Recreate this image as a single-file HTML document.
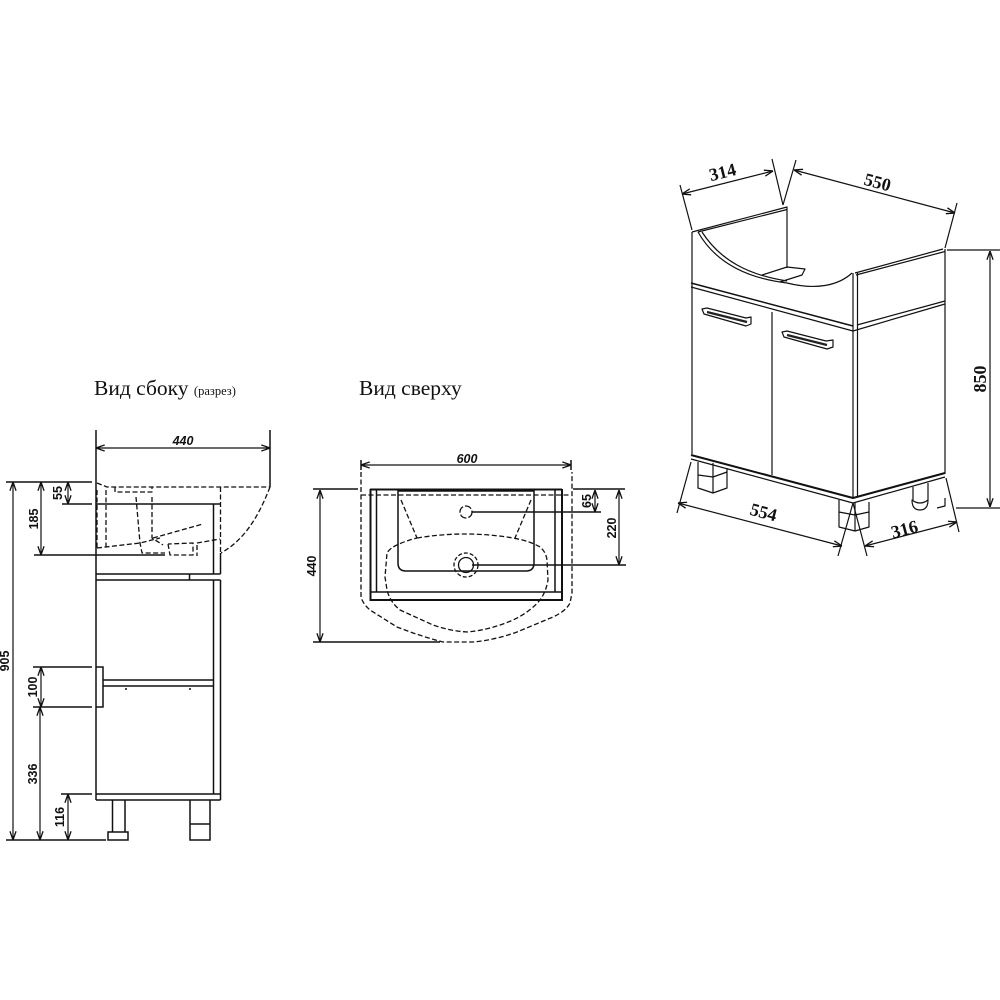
<!DOCTYPE html>
<html><head><meta charset="utf-8"><style>
html,body{margin:0;padding:0;background:#fff}
svg{display:block}
text{fill:#111}
.l{stroke:#111;stroke-width:1.5;fill:none}
.m{stroke:#111;stroke-width:1.2;fill:none;stroke-linejoin:round}
.d{stroke:#111;stroke-width:1.3;fill:none;stroke-dasharray:5 2.5;stroke-linejoin:round}
.h{font-family:"Liberation Serif","Noto Serif CJK SC",serif;font-size:21.5px}
.s{font-family:"Liberation Sans",sans-serif;font-size:12.5px;font-weight:bold}
.si{font-style:italic}
.i{font-family:"Liberation Serif",serif;font-size:18px;font-weight:bold}
</style></head><body>
<svg width="1000" height="1000" viewBox="0 0 1000 1000" xmlns="http://www.w3.org/2000/svg">
<defs>
<marker id="a" viewBox="0 0 10 8" refX="10" refY="4" markerWidth="9" markerHeight="7" orient="auto-start-reverse" markerUnits="userSpaceOnUse"><path d="M0 0.5L10 4L0 7.5" fill="none" stroke="#111" stroke-width="1.5"/></marker>
</defs>

<!-- headings -->
<text class="h" x="94" y="395">Вид сбоку <tspan font-size="12.5">(разрез)</tspan></text>
<text class="h" x="359" y="395">Вид сверху</text>

<!-- SIDE VIEW -->
<g class="l">
<path d="M96 430V800M270 430V487"/>
<path d="M6 482H92M62 504H92M34 555H165M33 667H92M33 707H92M61 794H92M6 840H106"/>
<path d="M96 504H220.500M96 574H220.500M96 580H220.500M189.500 574V580"/>
<path d="M213.500 504V574M220.500 580V800M213.500 580V794M220.500 553V574"/>
<path d="M96 794H220.500M96 800H220.500"/>
<path d="M112.500 800V832M125 800V832M108 832H128V840H108ZM190 800V840H210V800M190 824H210"/>
<path d="M96 667H103V707H96M103 680H214M103 686H214"/>
<path d="M126 688v2M190 688v2"/>
</g>
<g class="m">
<path d="M96 448H270" marker-start="url(#a)" marker-end="url(#a)"/>
<path d="M13 482V840" marker-start="url(#a)" marker-end="url(#a)"/>
<path d="M41 482V555" marker-start="url(#a)" marker-end="url(#a)"/>
<path d="M68 482V504" marker-start="url(#a)" marker-end="url(#a)"/>
<path d="M41 667V707" marker-start="url(#a)" marker-end="url(#a)"/>
<path d="M40 707V840" marker-start="url(#a)" marker-end="url(#a)"/>
<path d="M68 794V840" marker-start="url(#a)" marker-end="url(#a)"/>
</g>
<g class="d">
<path d="M97 483L107 487H270"/>
<path d="M270 487C258 518 244 540 221 553"/>
<path d="M97 490V548M106 490V547"/>
<path d="M97 548L140 543L160 538M197 543L220 539"/>
<path d="M115 487V492H152V487"/>
<path d="M136 497L140 543L142 553H165"/>
<path d="M152 497V538L163 545M153 538L203 524"/>
<path d="M168 544L170 555H193V543L168 544M197 545V556"/>
<path d="M220.500 487V553"/>
</g>
<text class="s si" x="183" y="445" text-anchor="middle">440</text>
<text class="s" transform="translate(62,493) rotate(-90)" text-anchor="middle">55</text>
<text class="s" transform="translate(38,519) rotate(-90)" text-anchor="middle">185</text>
<text class="s" transform="translate(9,661) rotate(-90)" text-anchor="middle">905</text>
<text class="s" transform="translate(37,687) rotate(-90)" text-anchor="middle">100</text>
<text class="s" transform="translate(37,774) rotate(-90)" text-anchor="middle">336</text>
<text class="s" transform="translate(64,817) rotate(-90)" text-anchor="middle">116</text>

<!-- TOP VIEW -->
<g class="l">
<path d="M313 489H358M573 489H625M313 642H440"/>
<path d="M370 489.500H562" stroke-width="2"/>
<path d="M370.500 489V600H562V489" stroke-width="2"/>
<path d="M376.500 490V592M555 490V592M370 592H562"/>
<path d="M398 491V563Q398 571 406 571H526Q534 571 534 563V491H398Z"/>
<path d="M472 512H601M472 565H626"/>
<path d="M361 460V470M571 460V470"/>
</g>
<g class="m">
<path d="M361 465H571" marker-start="url(#a)" marker-end="url(#a)"/>
<path d="M320 490V642" marker-start="url(#a)" marker-end="url(#a)"/>
<path d="M595 490V512" marker-start="url(#a)" marker-end="url(#a)"/>
<path d="M619 490V565" marker-start="url(#a)" marker-end="url(#a)"/>
</g>
<g class="d">
<path d="M361 472V597Q363 604 370 610L397 627Q420 636 443 642H473Q495 640 517 632L553 617Q566 611 570 603L572 593V472"/>
<path d="M361 495H570"/>
<path d="M417 538Q465 530 513 538Q530 541 540 547Q546 552 547 560L548 580Q546 592 540 600Q530 612 513 620Q490 630 467 632Q450 631 433 625L400 610Q390 602 387 590L385 577L387 553Q390 548 397 545Q405 541 417 538Z"/>
<path d="M401 500L417 538M531 500L515 538"/>
<circle cx="466" cy="512" r="6" stroke-dasharray="7 2"/>
<circle cx="466" cy="565" r="12" stroke-dasharray="4 2"/>
<circle cx="466" cy="565" r="7.500" stroke-dasharray="none"/>
</g>
<text class="s si" x="467" y="463" text-anchor="middle">600</text>
<text class="s" transform="translate(316,566) rotate(-90)" text-anchor="middle">440</text>
<text class="s" transform="translate(591,501) rotate(-90)" text-anchor="middle">65</text>
<text class="s" transform="translate(616,528) rotate(-90)" text-anchor="middle">220</text>

<!-- ISO VIEW -->
<g class="m">
<path d="M692 232V454M945 249V474M853 273V497M857.500 273V497M772 312V475"/>
<path d="M692 232L787 207V268M698 232L787 209.500"/>
<path d="M855 273L943 249M856 275L945 251.500"/>
<path d="M698 232C715 262 745 278 787 283C815 290 838 286 852 273"/>
<path d="M702 232C720 260 748 275 787 281"/>
<path d="M762 275L787 267L805 269L802 275L780 282"/>
<path d="M691 283L853 326" stroke-width="1.500"/>
<path d="M691 287L853 331L945 304"/>
<path d="M857 325L945 301"/>
<path d="M691 455L853 498L945 473" stroke-width="2"/>
<path d="M691 459L853 503L945 477"/>
<path d="M698 462V488L713 493L727 488V468M698 475L713 477L727 472M713 463V493"/>
<path d="M839 500V527L855 531L869 527V502M839 512L855 515L869 512M855 503V531"/>
<path d="M913 487V500M928 483V500M912 500Q912 510 920 510Q928 510 928 500Q920 506 912 500Z"/>
<path d="M702 309L707 308L746 318L751 317L751 324L746 326L704 314Z"/>
<path d="M782 332L787 331L826 341L833 340L833 347L827 349L784 337Z"/>
<path d="M680 185L692 230M772 159L783 205M796 160L783 205M957 203L945 248M677 513L691 462M838 556L853 503M867 556L853 503M959 532L946 478"/>
<path d="M947 250H1000M956 508H1000M937 508L945 506V498"/>
</g>
<g stroke="#222" fill="none" stroke-width="2.200">
<path d="M707 312L747 322"/>
<path d="M787 335L827 345"/>
</g>
<g class="m">
<path d="M682 194L773 171" marker-start="url(#a)" marker-end="url(#a)"/>
<path d="M794 170L955 213" marker-start="url(#a)" marker-end="url(#a)"/>
<path d="M990 251V507" marker-start="url(#a)" marker-end="url(#a)"/>
<path d="M678 503L842 546" marker-start="url(#a)" marker-end="url(#a)"/>
<path d="M865 546L957 522" marker-start="url(#a)" marker-end="url(#a)"/>
</g>
<text class="i" transform="translate(724,178) rotate(-14)" text-anchor="middle">314</text>
<text class="i" transform="translate(876,188) rotate(15)" text-anchor="middle">550</text>
<text class="i" transform="translate(762,518) rotate(15)" text-anchor="middle">554</text>
<text class="i" transform="translate(906,535) rotate(-15)" text-anchor="middle">316</text>
<text class="i" transform="translate(986,379) rotate(-90)" text-anchor="middle">850</text>
</svg>
</body></html>
